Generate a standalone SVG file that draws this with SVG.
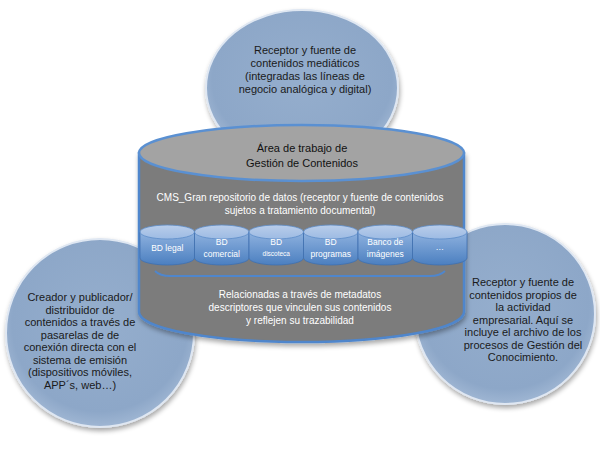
<svg xmlns="http://www.w3.org/2000/svg" width="600" height="450" viewBox="0 0 600 450">
<defs>
<filter id="sh" x="-20%" y="-20%" width="140%" height="140%">
<feGaussianBlur in="SourceAlpha" stdDeviation="2.5"/>
<feOffset dx="1" dy="3" result="b"/>
<feComponentTransfer><feFuncA type="linear" slope="0.35"/></feComponentTransfer>
<feMerge><feMergeNode/><feMergeNode in="SourceGraphic"/></feMerge>
</filter>
<radialGradient id="circ" cx="50%" cy="45%" r="55%">
<stop offset="0" stop-color="#95aecd"/>
<stop offset="0.85" stop-color="#8da7c8"/>
<stop offset="1" stop-color="#9fb6d3"/>
</radialGradient>
<linearGradient id="sbody" x1="0" y1="0" x2="0" y2="1">
<stop offset="0" stop-color="#8fb2df"/>
<stop offset="1" stop-color="#4b7fc0"/>
</linearGradient>
<linearGradient id="scap" x1="0" y1="0" x2="0" y2="1">
<stop offset="0" stop-color="#b9cdea"/>
<stop offset="1" stop-color="#9dbbe3"/>
</linearGradient>
</defs>
<style>
.circle{fill:url(#circ);stroke:#dfe7f2;stroke-width:2;filter:url(#sh)}
.ctext{font-family:"Liberation Sans",Arial,sans-serif;font-size:11px;fill:#1a1a1a;text-anchor:middle}
.wtext{font-family:"Liberation Sans",Arial,sans-serif;font-size:10px;fill:#ffffff;text-anchor:middle}
.btext{font-family:"Liberation Sans",Arial,sans-serif;font-size:11px;fill:#111111;text-anchor:middle}
.stext{font-family:"Liberation Sans",Arial,sans-serif;font-size:8.5px;fill:#ffffff;text-anchor:middle}
.sbody{fill:url(#sbody);stroke:#3f70b0;stroke-width:0.8}
.scap{fill:url(#scap);stroke:#5c8cc8;stroke-width:0.8}
</style>
<rect width="600" height="450" fill="#ffffff"/>

<g id="top-node">
<ellipse class="circle" cx="302" cy="88" rx="96" ry="78"/>
<text class="ctext" x="305" y="54">Receptor y fuente de</text>
<text class="ctext" x="305" y="67">contenidos mediáticos</text>
<text class="ctext" x="305" y="80">(integradas las líneas de</text>
<text class="ctext" x="305" y="93">negocio analógica y digital)</text>
</g>

<g id="left-node">
<circle class="circle" cx="100" cy="333" r="94"/>
<text class="ctext" x="80" y="301">Creador y publicador/</text>
<text class="ctext" x="80" y="313.5">distribuidor de</text>
<text class="ctext" x="80" y="326">contenidos a través de</text>
<text class="ctext" x="80" y="338.5">pasarelas de de</text>
<text class="ctext" x="80" y="351">conexión directa con el</text>
<text class="ctext" x="80" y="363.5">sistema de emisión</text>
<text class="ctext" x="80" y="376">(dispositivos móviles,</text>
<text class="ctext" x="80" y="388.5">APP´s, web…)</text>
</g>

<g id="right-node">
<circle class="circle" cx="505" cy="314" r="90"/>
<text class="ctext" x="523" y="286">Receptor y fuente de</text>
<text class="ctext" x="523" y="298.5">contenidos propios de</text>
<text class="ctext" x="523" y="311">la actividad</text>
<text class="ctext" x="523" y="323.5">empresarial. Aquí se</text>
<text class="ctext" x="523" y="336">incluye el archivo de los</text>
<text class="ctext" x="523" y="348.5">procesos de Gestión del</text>
<text class="ctext" x="523" y="361">Conocimiento.</text>
</g>

<g id="central-cylinder">
<path d="M139,153 L139,312 A162.5,30 0 0 0 464,312 L464,153 Z" fill="#7b7b7b" stroke="#4f86cc" stroke-width="2.5" filter="url(#sh)"/>
<ellipse cx="301.5" cy="153" rx="162.5" ry="28" fill="#a3a3a3" stroke="#5a90d2" stroke-width="2.5"/>
<text class="btext" x="302" y="152">Área de trabajo de</text>
<text class="btext" x="302" y="167">Gestión de Contenidos</text>
<text class="wtext" x="300" y="201">CMS_Gran repositorio de datos (receptor y fuente de contenidos</text>
<text class="wtext" x="300" y="214">sujetos a tratamiento documental)</text>
<text class="wtext" x="300" y="298">Relacionadas a través de metadatos</text>
<text class="wtext" x="300" y="311">descriptores que vinculen sus contenidos</text>
<text class="wtext" x="300" y="324">y reflejen su trazabilidad</text>
</g>

<g id="bd-legal">
<path class="sbody" d="M140,232 L140,258 A27.25,7 0 0 0 194.5,258 L194.5,232 Z"/>
<ellipse class="scap" cx="167.25" cy="232" rx="27.25" ry="7"/>
<text class="stext" x="167.25" y="251">BD legal</text>
</g>
<g id="bd-comercial">
<path class="sbody" d="M194.5,232 L194.5,258 A27.25,7 0 0 0 249,258 L249,232 Z"/>
<ellipse class="scap" cx="221.75" cy="232" rx="27.25" ry="7"/>
<text class="stext" x="221.75" y="245">BD</text>
<text class="stext" x="221.75" y="257">comercial</text>
</g>
<g id="bd-discoteca">
<path class="sbody" d="M249,232 L249,258 A27.25,7 0 0 0 303.5,258 L303.5,232 Z"/>
<ellipse class="scap" cx="276.25" cy="232" rx="27.25" ry="7"/>
<text class="stext" x="276.25" y="245">BD</text>
<text class="stext" x="276.25" y="256" style="font-size:6.5px">discoteca</text>
</g>
<g id="bd-programas">
<path class="sbody" d="M303.5,232 L303.5,258 A27.25,7 0 0 0 358,258 L358,232 Z"/>
<ellipse class="scap" cx="330.75" cy="232" rx="27.25" ry="7"/>
<text class="stext" x="330.75" y="245">BD</text>
<text class="stext" x="330.75" y="257">programas</text>
</g>
<g id="banco-imagenes">
<path class="sbody" d="M358,232 L358,258 A27.25,7 0 0 0 412.5,258 L412.5,232 Z"/>
<ellipse class="scap" cx="385.25" cy="232" rx="27.25" ry="7"/>
<text class="stext" x="385.25" y="245">Banco de</text>
<text class="stext" x="385.25" y="257">imágenes</text>
</g>
<g id="bd-more">
<path class="sbody" d="M412.5,232 L412.5,258 A27.25,7 0 0 0 467,258 L467,232 Z"/>
<ellipse class="scap" cx="439.75" cy="232" rx="27.25" ry="7"/>
<text class="stext" x="439.75" y="250">…</text>
</g>

<g id="connectors">
<path d="M155,271 Q160,276 170,276 L430,276 Q440,276 445,271" fill="none" stroke="#4f86cc" stroke-width="1.8"/>
</g>
</svg>
